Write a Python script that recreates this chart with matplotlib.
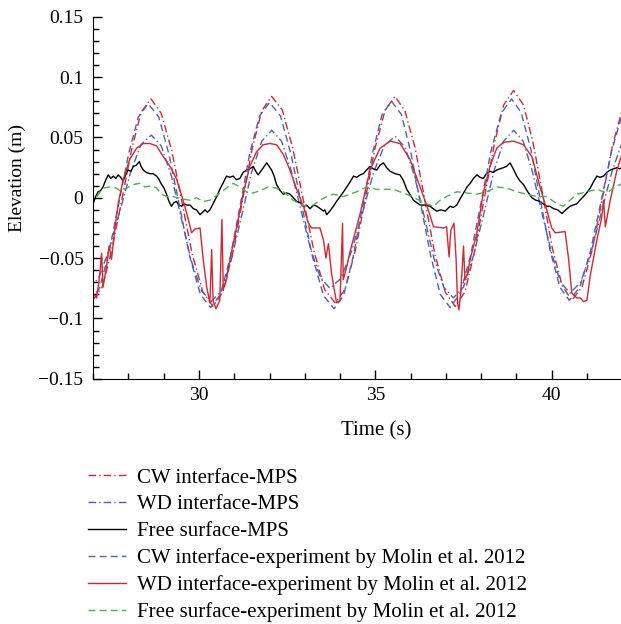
import matplotlib
matplotlib.use("Agg")
import matplotlib.pyplot as plt
from matplotlib.ticker import MultipleLocator, FuncFormatter

# values
cw_mps_t = [26.98, 27.26, 27.53, 27.81, 28.09, 28.36,
            28.64, 28.93, 29.23, 29.52, 29.81, 30.11,
            30.40, 30.68, 30.95, 31.23, 31.51, 31.78,
            32.06, 32.36, 32.66, 32.96, 33.26, 33.56,
            33.86, 34.14, 34.43, 34.71, 34.99, 35.28,
            35.56, 35.84, 36.13, 36.41, 36.69, 36.98,
            37.26, 37.54, 37.81, 38.09, 38.37, 38.64,
            38.92, 39.20, 39.47, 39.75, 40.02, 40.30,
            40.57, 40.86, 41.15, 41.44, 41.72, 42.01, 42.30]
cw_mps_v = [-0.085, -0.074, -0.043, -0.002, 0.040, 0.071,
            0.082, 0.070, 0.039, -0.004, -0.047, -0.078,
            -0.090, -0.078, -0.047, -0.003, 0.041, 0.072,
            0.084, 0.073, 0.041, -0.002, -0.044, -0.076,
            -0.087, -0.076, -0.044, -0.002, 0.041, 0.073,
            0.084, 0.072, 0.041, -0.003, -0.047, -0.078,
            -0.090, -0.078, -0.045, 0.000, 0.044, 0.077,
            0.089, 0.077, 0.046, 0.002, -0.042, -0.073,
            -0.085, -0.074, -0.043, 0.000, 0.043, 0.074, 0.085]

wd_mps_t = [26.85, 27.15, 27.45, 27.75, 28.05, 28.35,
            28.65, 28.93, 29.22, 29.50, 29.78, 30.07,
            30.35, 30.64, 30.92, 31.21, 31.49, 31.78,
            32.06, 32.34, 32.61, 32.89, 33.16, 33.44,
            33.71, 34.02, 34.33, 34.64, 34.94, 35.25,
            35.56, 35.84, 36.11, 36.39, 36.66, 36.94,
            37.21, 37.50, 37.78, 38.07, 38.35, 38.64,
            38.92, 39.19, 39.45, 39.72, 39.99, 40.25,
            40.52, 40.82, 41.11, 41.41, 41.71, 42.00, 42.30]
wd_mps_v = [-0.075, -0.067, -0.043, -0.012, 0.020, 0.044,
            0.052, 0.043, 0.018, -0.017, -0.052, -0.077,
            -0.086, -0.077, -0.051, -0.015, 0.021, 0.047,
            0.056, 0.047, 0.023, -0.010, -0.042, -0.066,
            -0.075, -0.067, -0.044, -0.012, 0.020, 0.043,
            0.051, 0.042, 0.018, -0.016, -0.050, -0.074,
            -0.083, -0.074, -0.048, -0.014, 0.021, 0.047,
            0.056, 0.047, 0.022, -0.012, -0.045, -0.070,
            -0.079, -0.070, -0.046, -0.012, 0.022, 0.046, 0.055]

free_mps_t = [27.00, 27.07, 27.14, 27.21, 27.28, 27.36, 27.43, 27.50, 27.57, 27.64,
              27.71, 27.78, 27.85, 27.92, 27.99, 28.07, 28.14, 28.22, 28.31, 28.36,
              28.42, 28.51, 28.61, 28.70, 28.80, 28.87, 28.94, 29.01, 29.08, 29.15,
              29.22, 29.29, 29.36, 29.44, 29.51, 29.58, 29.65, 29.75, 29.84, 29.93,
              30.03, 30.10, 30.17, 30.24, 30.31, 30.38, 30.45, 30.52, 30.59, 30.68,
              30.78, 30.87, 30.97, 31.06, 31.16, 31.25, 31.35, 31.44, 31.54, 31.61,
              31.68, 31.80, 31.92, 31.99, 32.06, 32.13, 32.20, 32.30, 32.39, 32.49,
              32.58, 32.68, 32.77, 32.87, 32.96, 33.05, 33.15, 33.25, 33.34, 33.44,
              33.53, 33.57, 33.62, 33.71, 33.81, 33.90, 34.00, 34.10, 34.19, 34.28,
              34.38, 34.47, 34.57, 34.66, 34.75, 34.85, 34.94, 35.04, 35.13, 35.23,
              35.32, 35.42, 35.56, 35.70, 35.80, 35.89, 35.98, 36.08, 36.17, 36.27,
              36.41, 36.55, 36.64, 36.74, 36.86, 36.98, 37.05, 37.12, 37.21, 37.31,
              37.40, 37.50, 37.60, 37.69, 37.78, 37.88, 37.97, 38.06, 38.15, 38.25,
              38.34, 38.44, 38.53, 38.63, 38.72, 38.82, 38.91, 39.01, 39.10, 39.20,
              39.32, 39.44, 39.55, 39.67, 39.76, 39.86, 39.95, 40.05, 40.17, 40.29,
              40.40, 40.52, 40.61, 40.71, 40.80, 40.90, 40.99, 41.09, 41.18, 41.28,
              41.37, 41.47, 41.56, 41.66, 41.75, 41.85, 41.92, 42.00]
free_mps_v = [-0.005, 0.001, 0.005, 0.006, 0.009, 0.015, 0.019, 0.016, 0.018, 0.016,
              0.019, 0.017, 0.014, 0.019, 0.023, 0.022, 0.026, 0.027, 0.030, 0.026,
              0.023, 0.021, 0.020, 0.020, 0.018, 0.015, 0.011, 0.008, 0.003, -0.003,
              -0.007, -0.004, -0.003, -0.006, -0.007, -0.005, -0.006, -0.006, -0.009, -0.010,
              -0.014, -0.012, -0.010, -0.012, -0.010, -0.006, -0.002, 0.002, 0.007, 0.012,
              0.018, 0.017, 0.018, 0.015, 0.016, 0.021, 0.023, 0.024, 0.026, 0.022,
              0.019, 0.024, 0.029, 0.026, 0.023, 0.018, 0.011, 0.006, 0.003, 0.004,
              0.003, 0.000, -0.003, -0.004, -0.007, -0.006, -0.009, -0.006, -0.007, -0.009,
              -0.011, -0.010, -0.014, -0.011, -0.007, -0.003, 0.001, 0.005, 0.009, 0.013,
              0.018, 0.017, 0.019, 0.020, 0.023, 0.026, 0.024, 0.023, 0.027, 0.029,
              0.025, 0.022, 0.020, 0.019, 0.014, 0.007, 0.003, -0.002, -0.004, -0.006,
              -0.006, -0.007, -0.009, -0.011, -0.010, -0.011, -0.009, -0.007, -0.008, -0.006,
              -0.001, 0.004, 0.009, 0.012, 0.016, 0.019, 0.017, 0.016, 0.020, 0.022,
              0.021, 0.023, 0.024, 0.025, 0.026, 0.029, 0.024, 0.018, 0.014, 0.011,
              0.005, 0.000, -0.002, -0.003, -0.005, -0.007, -0.007, -0.009, -0.010, -0.013,
              -0.010, -0.007, -0.006, -0.005, -0.002, 0.001, 0.004, 0.008, 0.013, 0.018,
              0.017, 0.018, 0.021, 0.023, 0.024, 0.025, 0.024, 0.025]

cw_exp_t = [26.90, 27.18, 27.45, 27.73, 28.01, 28.28,
            28.56, 28.86, 29.15, 29.45, 29.74, 30.04,
            30.33, 30.61, 30.89, 31.17, 31.44, 31.72,
            32.00, 32.31, 32.61, 32.92, 33.22, 33.53,
            33.83, 34.10, 34.37, 34.65, 34.92, 35.19,
            35.46, 35.74, 36.01, 36.29, 36.57, 36.84,
            37.12, 37.41, 37.70, 37.99, 38.28, 38.57,
            38.86, 39.13, 39.41, 39.68, 39.95, 40.23,
            40.50, 40.80, 41.10, 41.40, 41.70, 42.00, 42.30]
cw_exp_v = [-0.086, -0.075, -0.045, -0.004, 0.037, 0.067,
            0.078, 0.067, 0.036, -0.007, -0.049, -0.080,
            -0.091, -0.080, -0.049, -0.006, 0.037, 0.068,
            0.079, 0.068, 0.036, -0.007, -0.049, -0.081,
            -0.092, -0.081, -0.049, -0.006, 0.037, 0.069,
            0.080, 0.069, 0.037, -0.006, -0.048, -0.080,
            -0.091, -0.079, -0.048, -0.005, 0.039, 0.070,
            0.082, 0.071, 0.040, -0.002, -0.043, -0.074,
            -0.085, -0.074, -0.044, -0.003, 0.039, 0.069, 0.080]

wd_exp_t = [27.00, 27.10, 27.19, 27.24, 27.28, 27.38, 27.45, 27.52, 27.62, 27.71,
            27.85, 28.04, 28.23, 28.42, 28.61, 28.80, 28.99, 29.18, 29.36, 29.55,
            29.70, 29.79, 29.88, 30.03, 30.12, 30.22, 30.31, 30.36, 30.40, 30.48,
            30.59, 30.65, 30.69, 30.78, 30.88, 31.07, 31.26, 31.44, 31.63, 31.82,
            32.01, 32.20, 32.39, 32.58, 32.77, 32.96, 33.10, 33.19, 33.43, 33.53,
            33.60, 33.67, 33.76, 33.90, 34.00, 34.07, 34.09, 34.19, 34.28, 34.57,
            34.85, 35.13, 35.42, 35.70, 35.98, 36.27, 36.50, 36.65, 36.93, 37.02,
            37.09, 37.14, 37.23, 37.29, 37.33, 37.37, 37.42, 37.50, 37.54, 37.61,
            37.69, 37.88, 38.06, 38.25, 38.44, 38.63, 38.92, 39.20, 39.44, 39.67,
            39.86, 40.00, 40.10, 40.38, 40.48, 40.57, 40.71, 40.81, 40.90, 41.00,
            41.09, 41.28, 41.42, 41.47, 41.52, 41.66, 41.85, 42.00]
wd_exp_v = [-0.079, -0.083, -0.063, -0.046, -0.074, -0.057, -0.040, -0.051, -0.024, -0.005,
            0.015, 0.032, 0.041, 0.045, 0.045, 0.043, 0.034, 0.026, 0.016, -0.002,
            -0.018, -0.029, -0.026, -0.025, -0.051, -0.074, -0.087, -0.043, -0.085, -0.092,
            -0.085, -0.018, -0.076, -0.068, -0.051, -0.024, 0.004, 0.026, 0.038, 0.044,
            0.045, 0.044, 0.036, 0.023, 0.007, -0.007, -0.021, -0.025, -0.025, -0.035,
            -0.050, -0.038, -0.063, -0.087, -0.085, -0.021, -0.068, -0.057, -0.045, -0.013,
            0.023, 0.041, 0.047, 0.045, 0.032, 0.009, -0.010, -0.024, -0.025, -0.024,
            -0.049, -0.027, -0.021, -0.051, -0.087, -0.093, -0.079, -0.040, -0.068, -0.063,
            -0.051, -0.029, 0.004, 0.026, 0.041, 0.046, 0.047, 0.044, 0.034, 0.009,
            -0.010, -0.025, -0.029, -0.028, -0.051, -0.079, -0.083, -0.083, -0.086, -0.085,
            -0.065, -0.035, -0.016, -0.002, -0.024, -0.002, 0.023, 0.037]

free_exp_t = [27.10, 27.28, 27.47, 27.66, 27.80, 27.95, 28.14, 28.32, 28.47, 28.66,
              28.80, 28.94, 29.08, 29.27, 29.55, 29.74, 29.93, 30.12, 30.31, 30.55,
              30.78, 30.97, 31.16, 31.35, 31.54, 31.82, 31.96, 32.20, 32.44, 32.67,
              32.86, 33.05, 33.24, 33.43, 33.62, 33.81, 34.09, 34.28, 34.47, 34.75,
              34.90, 35.04, 35.23, 35.51, 35.70, 35.89, 36.17, 36.46, 36.65, 36.84,
              37.02, 37.31, 37.59, 37.88, 38.16, 38.44, 38.73, 39.01, 39.29, 39.58,
              39.86, 40.15, 40.33, 40.52, 40.71, 41.00, 41.28, 41.56, 41.75, 42.00]
free_exp_v = [0.001, 0.008, 0.009, 0.008, 0.005, 0.008, 0.011, 0.012, 0.009, 0.010,
              0.008, 0.003, 0.001, 0.001, -0.001, -0.002, 0.000, -0.003, -0.002, 0.003,
              0.008, 0.012, 0.009, 0.005, 0.004, 0.007, 0.009, 0.008, 0.004, -0.002,
              -0.005, -0.007, -0.006, -0.002, 0.001, 0.003, 0.001, 0.003, 0.005, 0.009,
              0.008, 0.007, 0.007, 0.007, 0.005, 0.003, -0.001, -0.005, -0.007, -0.002,
              0.001, 0.005, 0.004, 0.003, 0.005, 0.009, 0.008, 0.005, 0.003, 0.001,
              0.001, -0.005, -0.007, -0.002, 0.003, 0.005, 0.007, 0.004, 0.008, 0.012]

labels = ["CW interface-MPS", "WD interface-MPS", "Free surface-MPS",
          "CW interface-experiment by Molin et al. 2012",
          "WD interface-experiment by Molin et al. 2012",
          "Free surface-experiment by Molin et al. 2012"]

red = "#d8262e"
blue = "#4763b8"
green = "#45b649"

plt.rcParams["font.family"] = ["Liberation Serif", "DejaVu Serif"]

fig = plt.figure(figsize=(6.21, 6.24), dpi=100)
ax = fig.add_axes([0.150, 0.393, 0.852, 0.580])

ax.plot(cw_mps_t, cw_mps_v, color=red, lw=1.0, dashes=(5.5, 2.2, 1.0, 2.2), label=labels[0])
ax.plot(wd_mps_t, wd_mps_v, color=blue, lw=1.0, dashes=(5.5, 2.2, 1.0, 2.2), label=labels[1])
ax.plot(free_mps_t, free_mps_v, color="black", lw=1.0, label=labels[2])
ax.plot(cw_exp_t, cw_exp_v, color=blue, lw=1.0, dashes=(5.0, 3.0), label=labels[3])
ax.plot(wd_exp_t, wd_exp_v, color=red, lw=1.0, label=labels[4])
ax.plot(free_exp_t, free_exp_v, color=green, lw=1.0, dashes=(5.0, 3.0), label=labels[5])

ax.set_xlim(27, 42)
ax.set_ylim(-0.15, 0.15)
ax.spines["top"].set_visible(False)
ax.spines["right"].set_visible(False)
ax.xaxis.set_major_locator(MultipleLocator(5))
ax.xaxis.set_minor_locator(MultipleLocator(1))
ax.yaxis.set_major_locator(MultipleLocator(0.05))
ax.yaxis.set_minor_locator(MultipleLocator(0.01))


def fmt(v, pos):
    s = f"{v:.2f}".rstrip("0").rstrip(".")
    if s in ("-0", "0", ""):
        return "0"
    return s.replace("-", "\u2212")


ax.yaxis.set_major_formatter(FuncFormatter(fmt))
ax.tick_params(which="both", direction="in", labelsize=14)
ax.tick_params(which="major", length=6.5, width=1.0)
ax.tick_params(which="minor", length=4, width=1.0)
ax.tick_params(axis="x", pad=6)
ax.tick_params(axis="y", pad=7)

ax.set_xlabel("Time (s)", fontsize=15)
ax.set_ylabel("Elevation (m)", fontsize=14)
ax.xaxis.set_label_coords(0.535, -0.117)
ax.yaxis.set_label_coords(-0.127, 0.554)

ax.legend(loc="upper left", bbox_to_anchor=(88 / 621, 1 - 468 / 624),
          bbox_transform=fig.transFigure, frameon=False, fontsize=15,
          borderpad=0, borderaxespad=0, handlelength=1.8, handletextpad=0.55,
          labelspacing=0.34)

fig.savefig("out.png", dpi=100)
